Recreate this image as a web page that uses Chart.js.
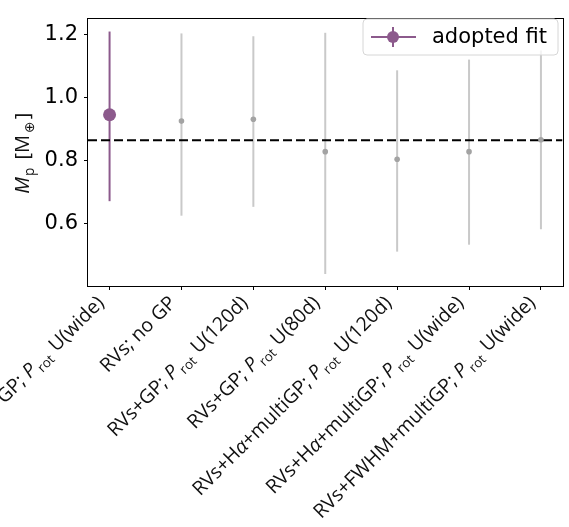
<!DOCTYPE html>
<html>
<head>
<meta charset="utf-8">
<script src="https://cdn.jsdelivr.net/npm/chart.js@4.4.0/dist/chart.umd.min.js"></script>
<style>
  html, body { margin: 0; padding: 0; background: #fff; }
  #wrap { width: 569px; height: 527px; }
</style>
</head>
<body>
<div id="wrap"><canvas id="chart" width="569" height="527"></canvas></div>
<script>
// fit runs along the x axis
var runLabels = [
    'RVs+GP; P_rot U(wide)',
    'RVs; no GP',
    'RVs+GP; P_rot U(120d)',
    'RVs+GP; P_rot U(80d)',
    'RVs+Hα+multiGP; P_rot U(120d)',
    'RVs+Hα+multiGP; P_rot U(wide)',
    'RVs+FWHM+multiGP; P_rot U(wide)'
];
// planet mass (M_earth): median and lower / upper ends of the error bar
var massMedian = [0.946, 0.926, 0.932, 0.829, 0.805, 0.829, 0.867];
var massLow    = [0.672, 0.626, 0.654, 0.441, 0.512, 0.534, 0.583];
var massHigh   = [1.210, 1.204, 1.195, 1.206, 1.087, 1.121, 1.150];
var adoptedIndex = 0;
var adoptedMass = 0.865;
var yTickValues = [0.6, 0.8, 1.0, 1.2];

var FONT = '"DejaVu Sans", sans-serif';
var LABEL_FONT = '"Open Sans", "DejaVu Sans", sans-serif';
var PURPLE = '#8c5a8c';
var DOT_GREY = '#a3a3a3';
var BAR_GREY = '#c9c9c9';

// very small "mathtext": P_rot -> italic P + subscript rot, alpha in italics
function splitRich(str) {
    var segs = [];
    str.split(/(P_rot|α)/).forEach(function (part) {
        if (!part) return;
        if (part === 'P_rot') {
            segs.push({t: 'P', it: true, gap: 0.12});
            segs.push({t: 'rot', sub: true, gap: 0.05});
        } else if (part === 'α') {
            segs.push({t: 'α', it: true});
        } else {
            segs.push({t: part});
        }
    });
    return segs;
}

function segFont(seg, size) {
    var s = seg.sub ? size * 0.68 : size;
    return (seg.it ? 'italic ' : '') + s + 'px ' + LABEL_FONT;
}

function richWidth(ctx, segs, size) {
    var w = 0;
    segs.forEach(function (seg) {
        ctx.font = segFont(seg, size);
        w += ctx.measureText(seg.t).width + (seg.gap || 0) * size;
    });
    return w;
}

function drawRich(ctx, segs, size, x, y) {
    segs.forEach(function (seg) {
        ctx.font = segFont(seg, size);
        ctx.fillText(seg.t, x, y + (seg.sub ? size * 0.24 : 0));
        x += ctx.measureText(seg.t).width + (seg.gap || 0) * size;
    });
}

var extras = {
    id: 'extras',
    beforeDatasetsDraw: function (chart) {
        var ctx = chart.ctx, xs = chart.scales.x, ys = chart.scales.y;
        ctx.save();
        ctx.lineWidth = 2;
        massMedian.forEach(function (m, i) {
            var px = xs.getPixelForValue(i);
            ctx.strokeStyle = i === adoptedIndex ? PURPLE : BAR_GREY;
            ctx.beginPath();
            ctx.moveTo(px, ys.getPixelForValue(massLow[i]));
            ctx.lineTo(px, ys.getPixelForValue(massHigh[i]));
            ctx.stroke();
        });
        ctx.restore();
    },
    afterDraw: function (chart) {
        var ctx = chart.ctx, a = chart.chartArea, xs = chart.scales.x;
        ctx.save();

        // axes frame
        ctx.strokeStyle = '#000';
        ctx.lineWidth = 1;
        ctx.strokeRect(Math.round(a.left) - 0.5, Math.round(a.top) - 0.5,
            Math.round(a.right - a.left) + 1, Math.round(a.bottom - a.top) + 1);

        // rotated x tick labels
        ctx.fillStyle = '#111';
        ctx.textAlign = 'left';
        ctx.textBaseline = 'alphabetic';
        runLabels.forEach(function (lab, i) {
            var segs = splitRich(lab);
            var px = xs.getPixelForValue(i);
            ctx.save();
            ctx.translate(px - 4.5, a.bottom + 18);
            ctx.rotate(-Math.PI / 4);
            drawRich(ctx, segs, 19.5, -richWidth(ctx, segs, 19.5), 0);
            ctx.restore();
        });

        // y axis title
        var ySegs = [{t: 'M', it: true, gap: 0.06}, {t: 'p', sub: true, gap: 0.14}, {t: ' [M', gap: 0.1}, {t: '⊕', sub: true, gap: 0.12}, {t: ']'}];
        ctx.save();
        ctx.translate(29, (a.top + a.bottom) / 2 + 1);
        ctx.rotate(-Math.PI / 2);
        drawRich(ctx, ySegs, 20, -richWidth(ctx, ySegs, 20) / 2, 0);
        ctx.restore();

        // legend
        var lx = 363, ly = 19, lw = 195, lh = 36, r = 4;
        ctx.beginPath();
        ctx.moveTo(lx + r, ly);
        ctx.arcTo(lx + lw, ly, lx + lw, ly + lh, r);
        ctx.arcTo(lx + lw, ly + lh, lx, ly + lh, r);
        ctx.arcTo(lx, ly + lh, lx, ly, r);
        ctx.arcTo(lx, ly, lx + lw, ly, r);
        ctx.closePath();
        ctx.fillStyle = 'rgba(255,255,255,0.8)';
        ctx.fill();
        ctx.strokeStyle = '#d6d6d6';
        ctx.stroke();

        var cy = ly + lh / 2;
        ctx.strokeStyle = PURPLE;
        ctx.lineWidth = 2;
        ctx.beginPath();
        ctx.moveTo(371, cy); ctx.lineTo(416, cy);
        ctx.moveTo(393, cy - 10); ctx.lineTo(393, cy + 10);
        ctx.stroke();
        ctx.fillStyle = PURPLE;
        ctx.beginPath();
        ctx.arc(393, cy, 6, 0, Math.PI * 2);
        ctx.fill();

        ctx.fillStyle = '#000';
        ctx.font = '21px ' + FONT;
        ctx.fillText('adopted fit', 432, cy + 6);

        ctx.restore();
    }
};

var otherRuns = [];
massMedian.forEach(function (m, i) {
    if (i !== adoptedIndex) otherRuns.push({x: i, y: m});
});

new Chart(document.getElementById('chart'), {
    type: 'scatter',
    data: {
        datasets: [
            {
                label: 'adopted fit',
                data: [{x: adoptedIndex, y: massMedian[adoptedIndex]}],
                pointRadius: 6.5,
                backgroundColor: PURPLE,
                borderWidth: 0,
                order: 0
            },
            {
                label: 'other fits',
                data: otherRuns,
                pointRadius: 2.8,
                backgroundColor: DOT_GREY,
                borderWidth: 0,
                order: 1
            },
            {
                type: 'line',
                label: 'adopted mass',
                data: [{x: -0.3, y: adoptedMass}, {x: 6.3, y: adoptedMass}],
                borderColor: '#000',
                borderWidth: 2,
                borderDash: [9, 4],
                pointRadius: 0,
                order: 2
            }
        ]
    },
    options: {
        responsive: false,
        animation: false,
        events: [],
        devicePixelRatio: 1,
        layout: { padding: { left: 0, top: 7, right: 2, bottom: 237 } },
        plugins: { legend: { display: false }, tooltip: { enabled: false } },
        scales: {
            x: {
                type: 'linear',
                min: -0.3,
                max: 6.3,
                afterBuildTicks: function (s) {
                    s.ticks = runLabels.map(function (l, i) { return {value: i}; });
                },
                afterFit: function (s) { s.height = 4; },
                ticks: { display: false },
                grid: { drawOnChartArea: false, drawTicks: true, tickLength: 4, color: '#000' },
                border: { display: false }
            },
            y: {
                min: 0.403,
                max: 1.251,
                afterBuildTicks: function (s) {
                    s.ticks = yTickValues.map(function (v) { return {value: v}; });
                },
                afterFit: function (s) { s.width = 88; },
                ticks: {
                    color: '#000',
                    padding: 6,
                    font: { family: FONT, size: 21 },
                    callback: function (v) { return v.toFixed(1); }
                },
                grid: { drawOnChartArea: false, drawTicks: true, tickLength: 4, color: '#000' },
                border: { display: false }
            }
        }
    },
    plugins: [extras]
});
</script>
</body>
</html>
